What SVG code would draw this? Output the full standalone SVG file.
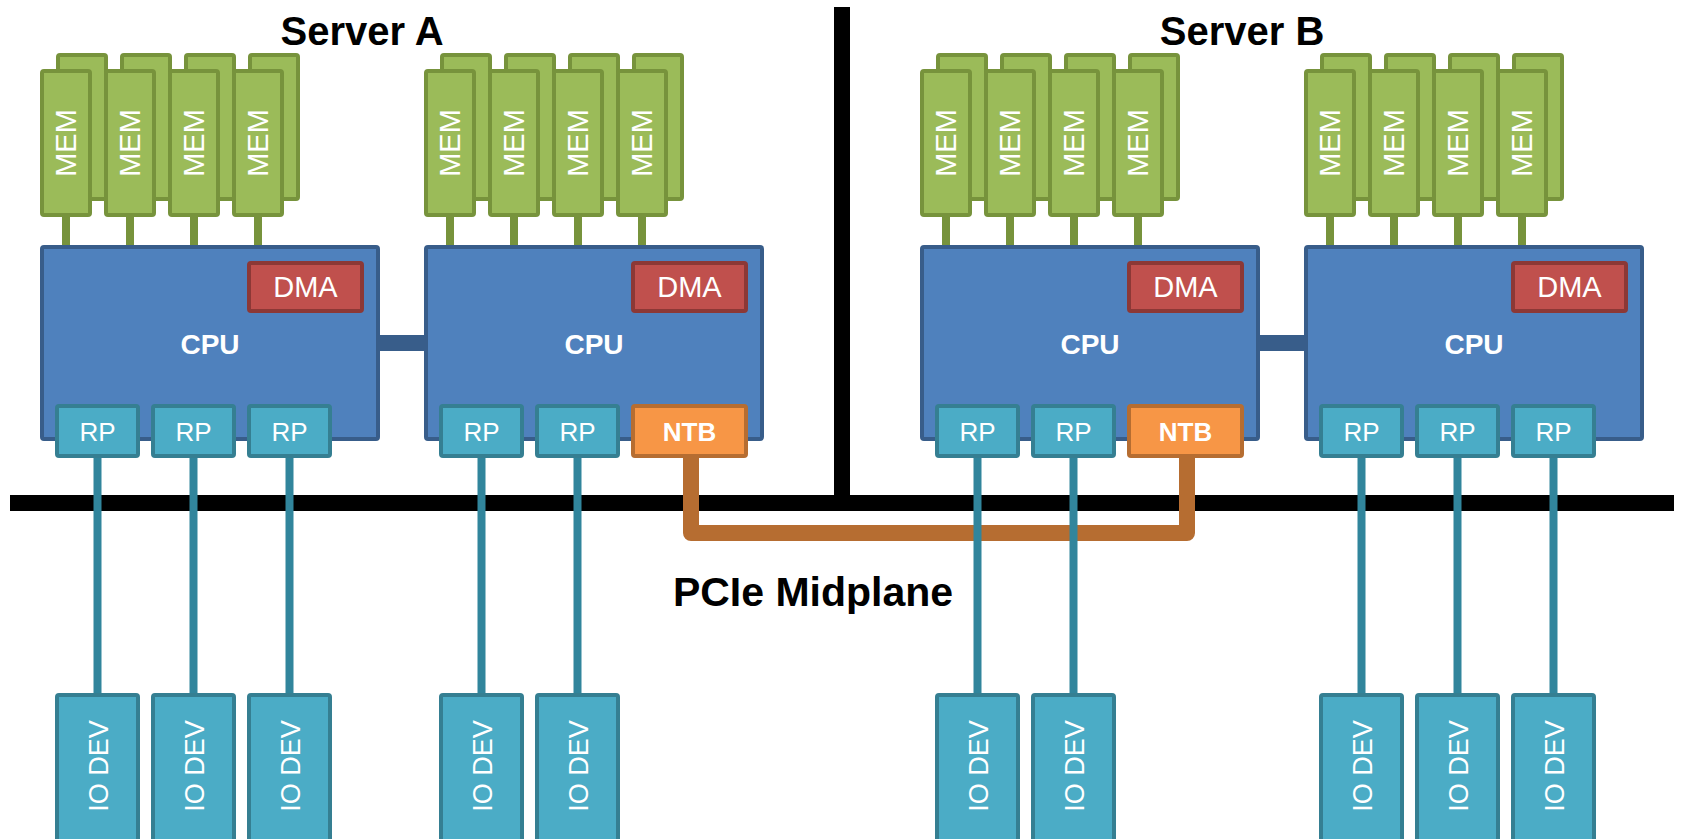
<svg xmlns="http://www.w3.org/2000/svg" width="1681" height="839" viewBox="0 0 1681 839">
<style>
.mem{fill:#9BBB59;stroke:#77933C;stroke-width:4}
.cpu{fill:#4F81BD;stroke:#385D8A;stroke-width:4}
.dma{fill:#C0504D;stroke:#8C3836;stroke-width:4}
.rp{fill:#4BACC6;stroke:#357F92;stroke-width:4}
.ntb{fill:#F79646;stroke:#B66D31;stroke-width:4}
.t{font-family:"Liberation Sans",Arial,sans-serif;fill:#fff;text-anchor:middle}
.reg{font-size:29px}
.rpt{font-size:26px}
.iot{font-size:27px}
.b{font-weight:bold}
.title{font-family:"Liberation Sans",Arial,sans-serif;font-weight:bold;font-size:40px;fill:#000;text-anchor:middle}
.stick{stroke:#77933C;stroke-width:8}
.teal{stroke:#31859C;stroke-width:8}
.link{fill:#385D8A}
</style>
<rect width="1681" height="839" fill="#fff"/>
<g id="midplane">
<rect x="10" y="495" width="1664" height="16" fill="#000"/>
<rect x="834" y="7" width="16" height="490" fill="#000"/>
</g>
<g id="connectors">
<path d="M691 456 V533 H1187 V456" fill="none" stroke="#B66D31" stroke-width="16" stroke-linejoin="round"/>
<g class="teal">
<line x1="97.5" y1="456" x2="97.5" y2="695"/>
<line x1="193.5" y1="456" x2="193.5" y2="695"/>
<line x1="289.5" y1="456" x2="289.5" y2="695"/>
<line x1="481.5" y1="456" x2="481.5" y2="695"/>
<line x1="577.5" y1="456" x2="577.5" y2="695"/>
<line x1="977.5" y1="456" x2="977.5" y2="695"/>
<line x1="1073.5" y1="456" x2="1073.5" y2="695"/>
<line x1="1361.5" y1="456" x2="1361.5" y2="695"/>
<line x1="1457.5" y1="456" x2="1457.5" y2="695"/>
<line x1="1553.5" y1="456" x2="1553.5" y2="695"/>
</g>
<rect class="link" x="376" y="335" width="52" height="16"/>
<rect class="link" x="1256" y="335" width="52" height="16"/>
<g class="stick">
<line x1="66" y1="214" x2="66" y2="248"/><line x1="130" y1="214" x2="130" y2="248"/><line x1="194" y1="214" x2="194" y2="248"/><line x1="258" y1="214" x2="258" y2="248"/>
<line x1="450" y1="214" x2="450" y2="248"/><line x1="514" y1="214" x2="514" y2="248"/><line x1="578" y1="214" x2="578" y2="248"/><line x1="642" y1="214" x2="642" y2="248"/>
<line x1="946" y1="214" x2="946" y2="248"/><line x1="1010" y1="214" x2="1010" y2="248"/><line x1="1074" y1="214" x2="1074" y2="248"/><line x1="1138" y1="214" x2="1138" y2="248"/>
<line x1="1330" y1="214" x2="1330" y2="248"/><line x1="1394" y1="214" x2="1394" y2="248"/><line x1="1458" y1="214" x2="1458" y2="248"/><line x1="1522" y1="214" x2="1522" y2="248"/>
</g>
</g>
<text class="title" x="362" y="45">Server A</text>
<text class="title" x="1242" y="45">Server B</text>
<text class="title" x="813" y="606" style="font-size:41px">PCIe Midplane</text>

<g id="mem-a1">
<rect class="mem" x="58" y="55" width="48" height="144" rx="2"/><rect class="mem" x="122" y="55" width="48" height="144" rx="2"/><rect class="mem" x="186" y="55" width="48" height="144" rx="2"/><rect class="mem" x="250" y="55" width="48" height="144" rx="2"/>
<rect class="mem" x="42" y="71" width="48" height="144" rx="2"/><rect class="mem" x="106" y="71" width="48" height="144" rx="2"/><rect class="mem" x="170" y="71" width="48" height="144" rx="2"/><rect class="mem" x="234" y="71" width="48" height="144" rx="2"/>
<text class="t reg" transform="translate(66,143) rotate(-90)" y="10">MEM</text><text class="t reg" transform="translate(130,143) rotate(-90)" y="10">MEM</text><text class="t reg" transform="translate(194,143) rotate(-90)" y="10">MEM</text><text class="t reg" transform="translate(258,143) rotate(-90)" y="10">MEM</text>
</g>
<g id="mem-a2">
<rect class="mem" x="442" y="55" width="48" height="144" rx="2"/><rect class="mem" x="506" y="55" width="48" height="144" rx="2"/><rect class="mem" x="570" y="55" width="48" height="144" rx="2"/><rect class="mem" x="634" y="55" width="48" height="144" rx="2"/>
<rect class="mem" x="426" y="71" width="48" height="144" rx="2"/><rect class="mem" x="490" y="71" width="48" height="144" rx="2"/><rect class="mem" x="554" y="71" width="48" height="144" rx="2"/><rect class="mem" x="618" y="71" width="48" height="144" rx="2"/>
<text class="t reg" transform="translate(450,143) rotate(-90)" y="10">MEM</text><text class="t reg" transform="translate(514,143) rotate(-90)" y="10">MEM</text><text class="t reg" transform="translate(578,143) rotate(-90)" y="10">MEM</text><text class="t reg" transform="translate(642,143) rotate(-90)" y="10">MEM</text>
</g>
<g id="mem-b1">
<rect class="mem" x="938" y="55" width="48" height="144" rx="2"/><rect class="mem" x="1002" y="55" width="48" height="144" rx="2"/><rect class="mem" x="1066" y="55" width="48" height="144" rx="2"/><rect class="mem" x="1130" y="55" width="48" height="144" rx="2"/>
<rect class="mem" x="922" y="71" width="48" height="144" rx="2"/><rect class="mem" x="986" y="71" width="48" height="144" rx="2"/><rect class="mem" x="1050" y="71" width="48" height="144" rx="2"/><rect class="mem" x="1114" y="71" width="48" height="144" rx="2"/>
<text class="t reg" transform="translate(946,143) rotate(-90)" y="10">MEM</text><text class="t reg" transform="translate(1010,143) rotate(-90)" y="10">MEM</text><text class="t reg" transform="translate(1074,143) rotate(-90)" y="10">MEM</text><text class="t reg" transform="translate(1138,143) rotate(-90)" y="10">MEM</text>
</g>
<g id="mem-b2">
<rect class="mem" x="1322" y="55" width="48" height="144" rx="2"/><rect class="mem" x="1386" y="55" width="48" height="144" rx="2"/><rect class="mem" x="1450" y="55" width="48" height="144" rx="2"/><rect class="mem" x="1514" y="55" width="48" height="144" rx="2"/>
<rect class="mem" x="1306" y="71" width="48" height="144" rx="2"/><rect class="mem" x="1370" y="71" width="48" height="144" rx="2"/><rect class="mem" x="1434" y="71" width="48" height="144" rx="2"/><rect class="mem" x="1498" y="71" width="48" height="144" rx="2"/>
<text class="t reg" transform="translate(1330,143) rotate(-90)" y="10">MEM</text><text class="t reg" transform="translate(1394,143) rotate(-90)" y="10">MEM</text><text class="t reg" transform="translate(1458,143) rotate(-90)" y="10">MEM</text><text class="t reg" transform="translate(1522,143) rotate(-90)" y="10">MEM</text>
</g>

<g id="cpu-a1">
<rect class="cpu" x="42" y="247" width="336" height="192" rx="2"/>
<text class="t b" x="210" y="354" style="font-size:28px">CPU</text>
<rect class="dma" x="249" y="263" width="113" height="48" rx="2"/><text class="t reg" x="305.5" y="297">DMA</text>
<rect class="rp" x="57" y="406" width="81" height="50" rx="2"/><text class="t rpt" x="97.5" y="441">RP</text>
<rect class="rp" x="153" y="406" width="81" height="50" rx="2"/><text class="t rpt" x="193.5" y="441">RP</text>
<rect class="rp" x="249" y="406" width="81" height="50" rx="2"/><text class="t rpt" x="289.5" y="441">RP</text>
</g>
<g id="cpu-a2">
<rect class="cpu" x="426" y="247" width="336" height="192" rx="2"/>
<text class="t b" x="594" y="354" style="font-size:28px">CPU</text>
<rect class="dma" x="633" y="263" width="113" height="48" rx="2"/><text class="t reg" x="689.5" y="297">DMA</text>
<rect class="rp" x="441" y="406" width="81" height="50" rx="2"/><text class="t rpt" x="481.5" y="441">RP</text>
<rect class="rp" x="537" y="406" width="81" height="50" rx="2"/><text class="t rpt" x="577.5" y="441">RP</text>
<rect class="ntb" x="633" y="406" width="113" height="50" rx="2"/><text class="t b" x="689.5" y="441" style="font-size:26px">NTB</text>
</g>
<g id="cpu-b1">
<rect class="cpu" x="922" y="247" width="336" height="192" rx="2"/>
<text class="t b" x="1090" y="354" style="font-size:28px">CPU</text>
<rect class="dma" x="1129" y="263" width="113" height="48" rx="2"/><text class="t reg" x="1185.5" y="297">DMA</text>
<rect class="rp" x="937" y="406" width="81" height="50" rx="2"/><text class="t rpt" x="977.5" y="441">RP</text>
<rect class="rp" x="1033" y="406" width="81" height="50" rx="2"/><text class="t rpt" x="1073.5" y="441">RP</text>
<rect class="ntb" x="1129" y="406" width="113" height="50" rx="2"/><text class="t b" x="1185.5" y="441" style="font-size:26px">NTB</text>
</g>
<g id="cpu-b2">
<rect class="cpu" x="1306" y="247" width="336" height="192" rx="2"/>
<text class="t b" x="1474" y="354" style="font-size:28px">CPU</text>
<rect class="dma" x="1513" y="263" width="113" height="48" rx="2"/><text class="t reg" x="1569.5" y="297">DMA</text>
<rect class="rp" x="1321" y="406" width="81" height="50" rx="2"/><text class="t rpt" x="1361.5" y="441">RP</text>
<rect class="rp" x="1417" y="406" width="81" height="50" rx="2"/><text class="t rpt" x="1457.5" y="441">RP</text>
<rect class="rp" x="1513" y="406" width="81" height="50" rx="2"/><text class="t rpt" x="1553.5" y="441">RP</text>
</g>

<g id="io-a1"><rect class="rp" x="57" y="695" width="81" height="170" rx="2"/><text class="t iot" transform="translate(97.5,766) rotate(-90)" y="10">IO DEV</text></g>
<g id="io-a2"><rect class="rp" x="153" y="695" width="81" height="170" rx="2"/><text class="t iot" transform="translate(193.5,766) rotate(-90)" y="10">IO DEV</text></g>
<g id="io-a3"><rect class="rp" x="249" y="695" width="81" height="170" rx="2"/><text class="t iot" transform="translate(289.5,766) rotate(-90)" y="10">IO DEV</text></g>
<g id="io-a4"><rect class="rp" x="441" y="695" width="81" height="170" rx="2"/><text class="t iot" transform="translate(481.5,766) rotate(-90)" y="10">IO DEV</text></g>
<g id="io-a5"><rect class="rp" x="537" y="695" width="81" height="170" rx="2"/><text class="t iot" transform="translate(577.5,766) rotate(-90)" y="10">IO DEV</text></g>
<g id="io-b1"><rect class="rp" x="937" y="695" width="81" height="170" rx="2"/><text class="t iot" transform="translate(977.5,766) rotate(-90)" y="10">IO DEV</text></g>
<g id="io-b2"><rect class="rp" x="1033" y="695" width="81" height="170" rx="2"/><text class="t iot" transform="translate(1073.5,766) rotate(-90)" y="10">IO DEV</text></g>
<g id="io-b3"><rect class="rp" x="1321" y="695" width="81" height="170" rx="2"/><text class="t iot" transform="translate(1361.5,766) rotate(-90)" y="10">IO DEV</text></g>
<g id="io-b4"><rect class="rp" x="1417" y="695" width="81" height="170" rx="2"/><text class="t iot" transform="translate(1457.5,766) rotate(-90)" y="10">IO DEV</text></g>
<g id="io-b5"><rect class="rp" x="1513" y="695" width="81" height="170" rx="2"/><text class="t iot" transform="translate(1553.5,766) rotate(-90)" y="10">IO DEV</text></g>
</svg>
